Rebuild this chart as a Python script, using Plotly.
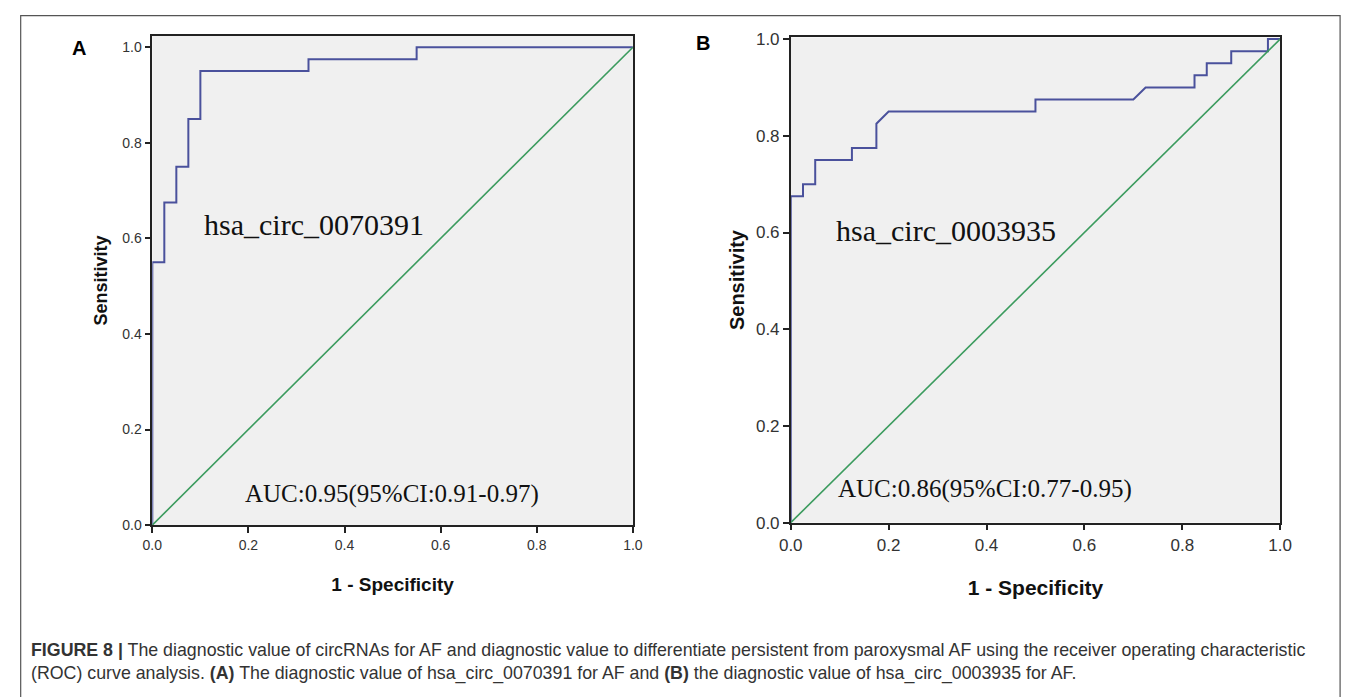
import plotly.graph_objects as go

# page is offset by the default 8px body margin, so the figure is sized to fit the window
W, H = 1349, 689

# ROC curve A (hsa_circ_0070391)
fpr_a = [0.0, 0.0, 0.025, 0.025, 0.05, 0.05, 0.075, 0.075, 0.1, 0.1, 0.325, 0.325, 0.55, 0.55, 1.0]
tpr_a = [0.0, 0.55, 0.55, 0.675, 0.675, 0.75, 0.75, 0.85, 0.85, 0.95, 0.95, 0.975, 0.975, 1.0, 1.0]

# ROC curve B (hsa_circ_0003935)
fpr_b = [0.0, 0.0, 0.025, 0.025, 0.05, 0.05, 0.125, 0.125, 0.175, 0.175, 0.2, 0.5, 0.5, 0.7, 0.725,
         0.825, 0.825, 0.85, 0.85, 0.9, 0.9, 0.975, 0.975, 1.0]
tpr_b = [0.0, 0.675, 0.675, 0.7, 0.7, 0.75, 0.75, 0.775, 0.775, 0.825, 0.85, 0.85, 0.875, 0.875, 0.9,
         0.9, 0.925, 0.925, 0.95, 0.95, 0.975, 0.975, 1.0, 1.0]

ref_line = [0.0, 1.0]
ticks = [0.0, 0.2, 0.4, 0.6, 0.8, 1.0]
tick_text = ["0.0", "0.2", "0.4", "0.6", "0.8", "1.0"]

names = ["hsa_circ_0070391", "hsa_circ_0003935"]
auc_text = ["AUC:0.95(95%CI:0.91-0.97)", "AUC:0.86(95%CI:0.77-0.95)"]

BLUE = "#4a519c"
GREEN = "#3b9b5e"
SANS = "Arial, Liberation Sans, sans-serif"
SERIF = "Times New Roman, Liberation Serif, serif"


def px(x):
    return x / W


def py(y):
    return 1 - y / H


fig = go.Figure()
fig.add_trace(go.Scatter(x=fpr_a, y=tpr_a, mode="lines", line=dict(color=BLUE, width=2),
                         xaxis="x", yaxis="y", showlegend=False))
fig.add_trace(go.Scatter(x=ref_line, y=ref_line, mode="lines", line=dict(color=GREEN, width=1.6),
                         xaxis="x", yaxis="y", showlegend=False))
fig.add_trace(go.Scatter(x=fpr_b, y=tpr_b, mode="lines", line=dict(color=BLUE, width=2),
                         xaxis="x2", yaxis="y2", showlegend=False))
fig.add_trace(go.Scatter(x=ref_line, y=ref_line, mode="lines", line=dict(color=GREEN, width=1.6),
                         xaxis="x2", yaxis="y2", showlegend=False))


def axis_style(tick_size):
    return dict(showgrid=False, zeroline=False, showline=True, linecolor="#222", linewidth=1.5,
                mirror=True, ticks="outside", ticklen=6, tickwidth=1.5, tickcolor="#222",
                tickvals=ticks, ticktext=tick_text,
                tickfont=dict(family=SANS, size=tick_size, color="#333"))


fig.update_layout(
    width=W, height=H,
    margin=dict(l=0, r=0, t=0, b=0),
    paper_bgcolor="white",
    plot_bgcolor="#f0f0f0",
    xaxis=dict(domain=[px(134.7), px(624)], range=[0, 1.0], anchor="y",
               title=dict(text="<b>1 - Specificity</b>", font=dict(family=SANS, size=19, color="#111"), standoff=26),
               **axis_style(14)),
    yaxis=dict(domain=[py(523), py(21.5)], range=[0, 1.0235], anchor="x",
               title=dict(text="<b>Sensitivity</b>", font=dict(family=SANS, size=18, color="#111"), standoff=10),
               **axis_style(14)),
    xaxis2=dict(domain=[px(784.7), px(1283)], range=[0, 1.0], anchor="y2",
                title=dict(text="<b>1 - Specificity</b>", font=dict(family=SANS, size=21, color="#111"), standoff=26),
                **axis_style(17)),
    yaxis2=dict(domain=[py(520.5), py(23)], range=[0, 1.0034], anchor="x2",
                title=dict(text="<b>Sensitivity</b>", font=dict(family=SANS, size=20, color="#111"), standoff=6),
                **axis_style(17)),
)

fig.add_annotation(x=0.1035, y=0.63, xref="x", yref="y", text=names[0], showarrow=False, xanchor="left",
                   font=dict(family=SERIF, size=30, color="#111"))
fig.add_annotation(x=0.498, y=0.065, xref="x", yref="y", text=auc_text[0], showarrow=False, xanchor="center",
                   font=dict(family=SERIF, size=25, color="#111"))
fig.add_annotation(x=0.088, y=0.604, xref="x2", yref="y2", text=names[1], showarrow=False, xanchor="left",
                   font=dict(family=SERIF, size=30, color="#111"))
fig.add_annotation(x=0.396, y=0.069, xref="x2", yref="y2", text=auc_text[1], showarrow=False, xanchor="center",
                   font=dict(family=SERIF, size=25, color="#111"))

# panel letters
fig.add_annotation(x=px(60), y=py(34), xref="paper", yref="paper", text="<b>A</b>", showarrow=False,
                   xanchor="center", yanchor="middle", font=dict(family=SANS, size=20, color="#000"))
fig.add_annotation(x=px(695), y=py(29), xref="paper", yref="paper", text="<b>B</b>", showarrow=False,
                   xanchor="center", yanchor="middle", font=dict(family=SANS, size=20, color="#000"))

# caption
cap1 = ("<b>FIGURE 8 |</b> The diagnostic value of circRNAs for AF and diagnostic value to differentiate persistent "
        "from paroxysmal AF using the receiver operating characteristic")
cap2 = ("(ROC) curve analysis. <b>(A)</b> The diagnostic value of hsa_circ_0070391 for AF and <b>(B)</b> the "
        "diagnostic value of hsa_circ_0003935 for AF.")
capfont = dict(family=SANS, size=17.8, color="#333")
fig.add_annotation(x=px(9), y=py(651), xref="paper", yref="paper", text=cap1, showarrow=False,
                   xanchor="left", yanchor="middle", font=capfont)
fig.add_annotation(x=px(9), y=py(675), xref="paper", yref="paper", text=cap2, showarrow=False,
                   xanchor="left", yanchor="middle", font=capfont)

# outer frame
fig.add_shape(type="rect", xref="paper", yref="paper", x0=px(0.7), x1=px(1344), y0=py(700), y1=py(0.7),
              line=dict(color="#555", width=1.2), fillcolor="rgba(0,0,0,0)", layer="above")

fig.write_html("out.html")
